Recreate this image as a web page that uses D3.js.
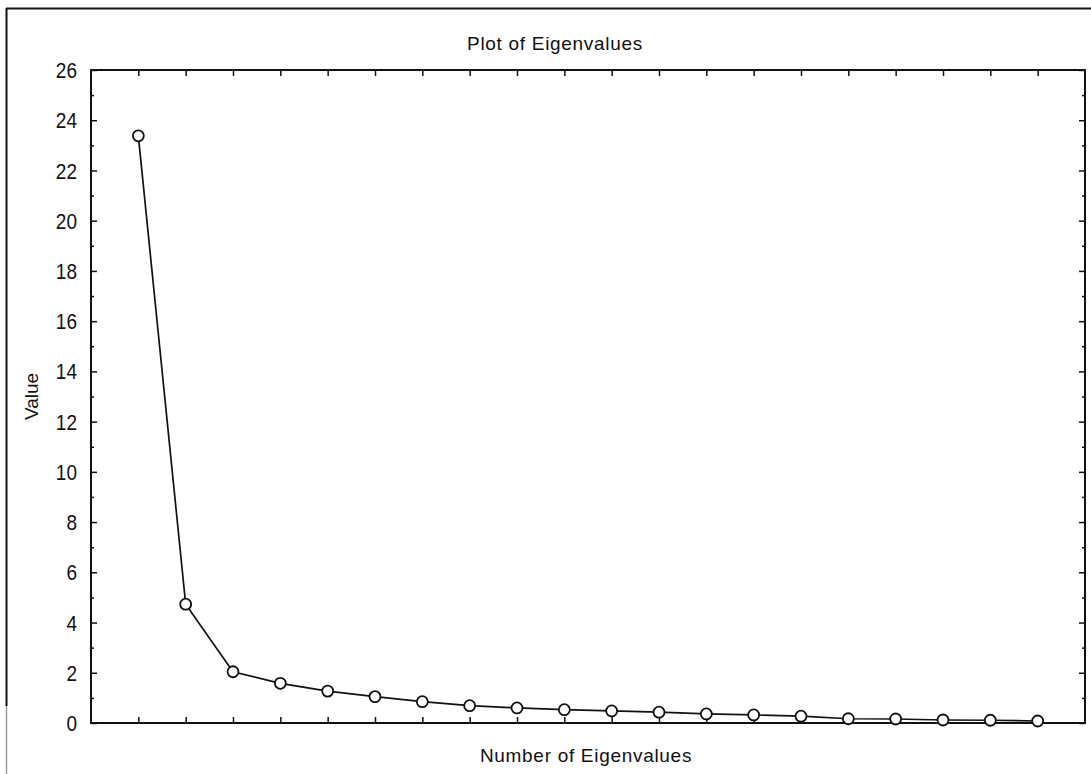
<!DOCTYPE html>
<html>
<head>
<meta charset="utf-8">
<script src="https://cdn.jsdelivr.net/npm/d3@7"></script>
<style>
  html, body { margin: 0; padding: 0; background: #fff; }
  svg { display: block; }
  text { font-family: "Liberation Sans", Arial, sans-serif; fill: #111; }
</style>
</head>
<body>
<svg id="chart" width="1091" height="774"></svg>
<script>
// ---- data ----
const eigenNumbers = [1,2,3,4,5,6,7,8,9,10,11,12,13,14,15,16,17,18,19,20];
const eigenValues  = [23.38,4.73,2.04,1.58,1.27,1.05,0.85,0.69,0.60,0.53,
                      0.48,0.43,0.36,0.32,0.27,0.17,0.16,0.12,0.11,0.08];
const yMajorTicks = [0,2,4,6,8,10,12,14,16,18,20,22,24,26];
const yMinorTicks = [1,3,5,7,9,11,13,15,17,19,21,23,25];
const titleText = "Plot of Eigenvalues";
const xLabelText = "Number of Eigenvalues";
const yLabelText = "Value";

// ---- layout ----
const svg = d3.select("#chart");
const L = 91, R = 1085, T = 70, B = 723;

const x = d3.scaleLinear().domain([0, 21]).range([L, R]);
const y = d3.scaleLinear().domain([0, 26]).range([B, T]);

// outer frame
svg.append("line").attr("x1", 6).attr("x2", 1091).attr("y1", 8.5).attr("y2", 8.5)
  .attr("stroke", "#111").attr("stroke-width", 2);
svg.append("line").attr("x1", 6.5).attr("x2", 6.5).attr("y1", 8).attr("y2", 706)
  .attr("stroke", "#111").attr("stroke-width", 2);
svg.append("line").attr("x1", 6.5).attr("x2", 6.5).attr("y1", 706).attr("y2", 774)
  .attr("stroke", "#999").attr("stroke-width", 1.5);

// axes (ticks inward)
const tickStyle = g => {
  g.select(".domain").remove();
  g.selectAll(".tick line").attr("stroke", "#111").attr("stroke-width", 1.5);
};
svg.append("g").attr("transform", `translate(0,${B})`)
  .call(d3.axisTop(x).tickValues(eigenNumbers).tickSize(6).tickFormat(""))
  .call(tickStyle);
svg.append("g").attr("transform", `translate(0,${T})`)
  .call(d3.axisBottom(x).tickValues(eigenNumbers).tickSize(6).tickFormat(""))
  .call(tickStyle);

svg.append("g").attr("transform", `translate(${L},0)`)
  .call(d3.axisRight(y).tickValues(yMajorTicks).tickSize(6).tickFormat(""))
  .call(tickStyle);
svg.append("g").attr("transform", `translate(${L},0)`)
  .call(d3.axisRight(y).tickValues(yMinorTicks).tickSize(3).tickFormat(""))
  .call(tickStyle);
svg.append("g").attr("transform", `translate(${R},0)`)
  .call(d3.axisLeft(y).tickValues(yMajorTicks).tickSize(6).tickFormat(""))
  .call(tickStyle);
svg.append("g").attr("transform", `translate(${R},0)`)
  .call(d3.axisLeft(y).tickValues(yMinorTicks).tickSize(3).tickFormat(""))
  .call(tickStyle);

// y tick labels
svg.append("g").selectAll("text").data(yMajorTicks).join("text")
  .attr("x", L - 14).attr("y", d => y(d))
  .attr("dy", "0.36em")
  .attr("text-anchor", "end")
  .attr("font-size", 20)
  .attr("transform", d => `translate(${L - 14},${y(d)}) scale(0.95,1.12) translate(${-(L - 14)},${-y(d)})`)
  .text(d => d);

// plot frame
svg.append("rect").attr("x", L).attr("y", T).attr("width", R - L).attr("height", B - T)
  .attr("fill", "none").attr("stroke", "#111").attr("stroke-width", 2);

// line + markers
const pts = eigenNumbers.map((n, i) => [n, eigenValues[i]]);
svg.append("path").datum(pts)
  .attr("fill", "none").attr("stroke", "#111").attr("stroke-width", 1.7)
  .attr("d", d3.line().x(d => x(d[0])).y(d => y(d[1])));
svg.append("g").selectAll("circle").data(pts).join("circle")
  .attr("cx", d => x(d[0])).attr("cy", d => y(d[1])).attr("r", 5.5)
  .attr("fill", "#fff").attr("stroke", "#111").attr("stroke-width", 1.8);

// titles
svg.append("text").attr("x", 555).attr("y", 50).attr("text-anchor", "middle")
  .attr("font-size", 19).attr("letter-spacing", 0.7).text(titleText);
svg.append("text").attr("x", 586).attr("y", 762).attr("text-anchor", "middle")
  .attr("font-size", 19).attr("letter-spacing", 0.7).text(xLabelText);
svg.append("text").attr("transform", `translate(38,${(T + B) / 2}) rotate(-90)`)
  .attr("text-anchor", "middle").attr("font-size", 19).text(yLabelText);
</script>
</body>
</html>
